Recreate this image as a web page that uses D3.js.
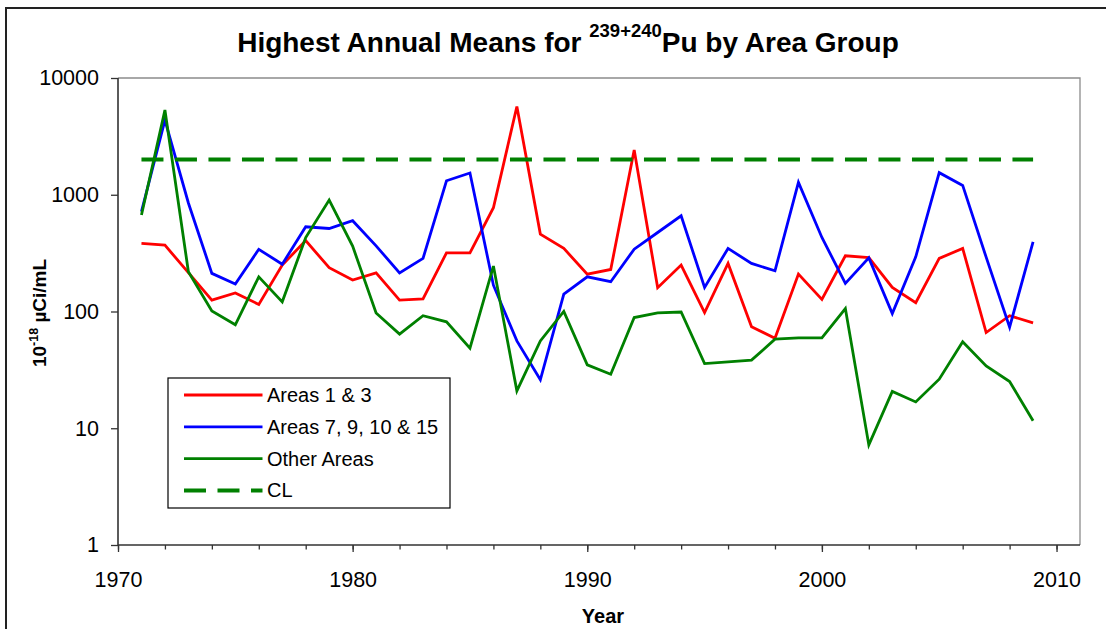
<!DOCTYPE html>
<html>
<head>
<meta charset="utf-8">
<script src="https://cdn.jsdelivr.net/npm/d3@7"></script>
<style>
	body { margin: 0; background: #ffffff; }
	svg { font-family: "Liberation Sans", Arial, sans-serif; }
</style>
</head>
<body>
<div id="chart"></div>
<script>
var years = d3.range(1971, 2010);

var areas13 = [ 384, 370, 215, 125, 144, 115, 250, 405, 237, 186, 214, 125, 128, 318, 318, 774, 5700, 460, 347,
		209, 229, 2415, 160, 250, 98, 258, 74, 59, 209, 127, 300, 290, 161, 119, 285, 347, 66, 92, 80 ];
var areas791015 = [ 716, 4350, 850, 212, 172, 341, 254, 532, 514, 599, 365, 214, 285, 1318, 1535, 168, 56, 26, 141,
		198, 180, 342, 475, 660, 161, 347, 258, 223, 1276, 431, 174, 288, 96, 294, 1545, 1202, 292, 73.5, 395 ];
var otherAreas = [ 671, 5320, 219, 101, 77, 198, 121, 430, 900, 363, 97, 64, 92, 81.5, 48.5, 245, 20.9, 56, 100,
		34.9, 29, 88.8, 97.5, 99, 35.8, 37, 38.3, 57.9, 59.4, 59.4, 106, 7.2, 20.7, 16.8, 26.3, 55, 34.2, 25.1, 11.6 ];
var cl = years.map(function() {
	return 2000;
});

var seriesNames = [ "Areas 1 & 3", "Areas 7, 9, 10 & 15", "Other Areas", "CL" ];
var seriesColors = [ "#ff0000", "#0000ff", "#008000", "#008000" ];
var yTicks = [ 1, 10, 100, 1000, 10000 ];
var xMajorTicks = [ 1970, 1980, 1990, 2000, 2010 ];
var xMinorTicks = d3.range(1970, 2011, 2);

var width = 1106, height = 629;
var plotLeft = 118, plotRight = 1080, plotTop = 78, plotBottom = 545;

var svg = d3.select("#chart").append("svg")//
.attr("width", width)//
.attr("height", height);

// chart frame, only left and top edges are in view
svg.append("rect")//
.attr("x", 6)//
.attr("y", 8)//
.attr("width", 1200)//
.attr("height", 700)//
.attr("fill", "#ffffff")//
.attr("stroke", "#222222")//
.attr("stroke-width", 2);

var x = d3.scaleLinear().domain([ 1970, 2011 ]).range([ plotLeft, plotRight ]);
var y = d3.scaleLog().domain([ 1, 10000 ]).range([ plotBottom, plotTop ]);

// plot area border (grey top and right)
svg.append("path")//
.attr("d", "M" + plotLeft + "," + plotTop + "H" + plotRight + "V" + plotBottom)//
.attr("fill", "none")//
.attr("stroke", "#8c8c8c")//
.attr("stroke-width", 1.3);

// x axis
var xMinor = svg.append("g")//
.attr("transform", "translate(0," + plotBottom + ")")//
.call(d3.axisBottom(x).tickValues(xMinorTicks).tickSize(4.5).tickSizeOuter(0).tickFormat(""));
xMinor.select(".domain").remove();

var xMajor = svg.append("g")//
.attr("transform", "translate(0," + plotBottom + ")")//
.call(d3.axisBottom(x).tickValues(xMajorTicks).tickSize(7).tickSizeOuter(0).tickPadding(20).tickFormat(d3.format("d")));
xMajor.select(".domain").remove();

// y axis
var yAxis = svg.append("g")//
.attr("transform", "translate(" + plotLeft + ",0)")//
.call(d3.axisLeft(y).tickValues(yTicks).tickSize(7).tickSizeOuter(0).tickPadding(12).tickFormat(d3.format("d")));
yAxis.select(".domain").remove();

svg.selectAll(".tick line").attr("stroke", "#333333").attr("stroke-width", 1.3);
svg.selectAll(".tick text").attr("font-size", "21.5px").attr("fill", "#000000");

svg.append("path")//
.attr("d", "M" + plotLeft + "," + plotTop + "V" + plotBottom + "H" + plotRight)//
.attr("fill", "none")//
.attr("stroke", "#333333")//
.attr("stroke-width", 1.6);

// lines
var allSeries = [ areas13, areas791015, otherAreas, cl ];
var line = d3.line()//
.x(function(d, i) {
	return x(years[i]);
})//
.y(function(d) {
	return y(d);
});

svg.selectAll(".series").data(allSeries).enter().append("path")//
.attr("class", "series")//
.attr("d", line)//
.attr("fill", "none")//
.attr("stroke", function(d, i) {
	return seriesColors[i];
})//
.attr("stroke-width", function(d, i) {
	return i == 3 ? 4 : 2.8;
})//
.attr("stroke-dasharray", function(d, i) {
	return i == 3 ? "22,11.5" : null;
})//
.attr("stroke-linejoin", "miter");

// title
var title = svg.append("text")//
.attr("x", 568)//
.attr("y", 52)//
.attr("text-anchor", "middle")//
.attr("font-size", "28px")//
.attr("font-weight", "bold");
title.append("tspan").text("Highest Annual Means for ");
title.append("tspan").attr("dy", -15).attr("font-size", "18.5px").text("239+240");
title.append("tspan").attr("dy", 15).text("Pu by Area Group");

// axis titles
svg.append("text")//
.attr("x", 603)//
.attr("y", 623)//
.attr("text-anchor", "middle")//
.attr("font-size", "20px")//
.attr("font-weight", "bold")//
.text("Year");

var yTitle = svg.append("text")//
.attr("transform", "translate(46,313) rotate(-90)")//
.attr("text-anchor", "middle")//
.attr("font-size", "19px")//
.attr("font-weight", "bold");
yTitle.append("tspan").text("10");
yTitle.append("tspan").attr("dy", -8).attr("font-size", "12.5px").text("-18");
yTitle.append("tspan").attr("dy", 8).text(" \u00b5Ci/mL");

// legend
var legend = svg.append("g");
legend.append("rect")//
.attr("x", 168)//
.attr("y", 378)//
.attr("width", 282)//
.attr("height", 130)//
.attr("fill", "#ffffff")//
.attr("stroke", "#000000")//
.attr("stroke-width", 1.2);

var rows = legend.selectAll(".legend-row").data(seriesNames).enter().append("g")//
.attr("class", "legend-row")//
.attr("transform", function(d, i) {
	return "translate(0," + (395 + i * 31.8) + ")";
});
rows.append("line")//
.attr("x1", 184)//
.attr("x2", 262.5)//
.attr("stroke", function(d, i) {
	return seriesColors[i];
})//
.attr("stroke-width", function(d, i) {
	return i == 3 ? 4 : 2.8;
})//
.attr("stroke-dasharray", function(d, i) {
	return i == 3 ? "22,11.5" : null;
});
rows.append("text")//
.attr("x", 267)//
.attr("y", 7)//
.attr("font-size", "20px")//
.text(function(d) {
	return d;
});
</script>
</body>
</html>
